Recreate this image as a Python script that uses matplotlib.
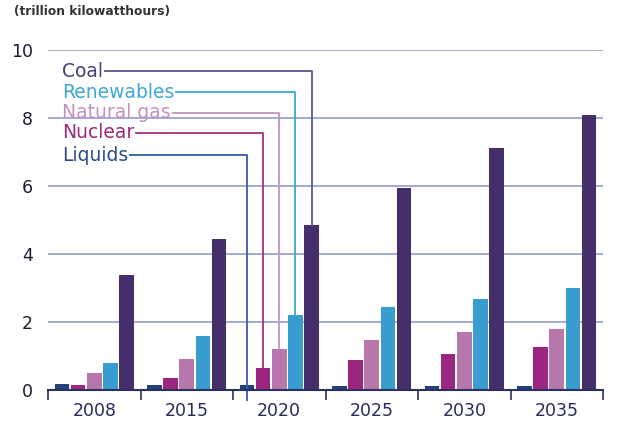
import matplotlib.pyplot as plt
import numpy as np

# data (trillion kilowatthours)
years = ['2008', '2015', '2020', '2025', '2030', '2035']
series = ['Liquids', 'Nuclear', 'Natural gas', 'Renewables', 'Coal']
liquids = [0.18, 0.14, 0.14, 0.13, 0.13, 0.13]
nuclear = [0.14, 0.35, 0.65, 0.87, 1.06, 1.27]
natural_gas = [0.49, 0.90, 1.20, 1.47, 1.70, 1.79]
renewables = [0.80, 1.59, 2.21, 2.44, 2.67, 2.99]
coal = [3.39, 4.43, 4.84, 5.95, 7.12, 8.10]
yticks = [0, 2, 4, 6, 8, 10]

values = [liquids, nuclear, natural_gas, renewables, coal]
bar_colors = ['#24417c', '#9b2680', '#b777ad', '#3a9dcf', '#442f6b']
text_colors = ['#2b4a8c', '#9a2a78', '#c592bf', '#3fa7d3', '#45407c']
line_colors = ['#2f5fa3', '#a3317f', '#c592bf', '#3fa7d3', '#5c5492']
label_y = [6.91, 7.56, 8.15, 8.76, 9.38]

fig = plt.figure(figsize=(6.22, 4.25), dpi=100)
ax = fig.add_axes([48 / 622, 1 - 390 / 425, 555 / 622, 340 / 425])

x = np.arange(len(years))
step = 0.175
width = 0.157
offsets = (np.arange(len(series)) - 2) * step

for i, name in enumerate(series):
    ax.bar(x + offsets[i], values[i], width, color=bar_colors[i], zorder=3)

ax.set_xlim(-0.5, len(years) - 0.5)
ax.set_ylim(0, 10)

# grid
for v in yticks[1:]:
    ax.axhline(v, color='#959ad0', lw=1.2, zorder=1)

ax.set_yticks(yticks)
ax.set_yticklabels([str(v) for v in yticks], fontsize=12.5, color='#1c1c2c')
ax.tick_params(axis='y', length=0, pad=11)

ax.set_xticks(np.arange(len(years) + 1) - 0.5)
ax.set_xticklabels([])
ax.set_xticks(x, minor=True)
ax.set_xticklabels(years, minor=True, fontsize=12.5, color='#2a2b5c')
ax.tick_params(axis='x', which='major', length=7, width=1.2, color='#2c3060', direction='out')
ax.tick_params(axis='x', which='minor', length=0, pad=9)

for s in ['top', 'right', 'left']:
    ax.spines[s].set_visible(False)
ax.spines['bottom'].set_color('#2c3060')
ax.spines['bottom'].set_linewidth(1.5)
ax.spines['bottom'].set_zorder(4)

fig.text(14 / 622, 1 - 12 / 425, '(trillion kilowatthours)', fontsize=8.8,
         fontweight='bold', color='#333333', va='center', ha='left')

# labels with leader lines to the 2020 bars
label_x = -0.35
texts = []
for i, name in enumerate(series):
    t = ax.text(label_x, label_y[i], name, fontsize=13.5, color=text_colors[i],
                va='center', ha='left', zorder=5)
    texts.append(t)

fig.canvas.draw()
renderer = fig.canvas.get_renderer()
inv = ax.transData.inverted()
k = years.index('2020')
for i, t in enumerate(texts):
    bb = t.get_window_extent(renderer)
    x0 = inv.transform((bb.x1 + 2, 0))[0]
    bx = x[k] + offsets[i]
    y_end = -0.3 if series[i] == 'Liquids' else values[i][k]
    ax.plot([x0, bx, bx], [label_y[i], label_y[i], y_end], color=line_colors[i],
            lw=1.3, zorder=4, clip_on=False)

fig.savefig('out.png', dpi=100)
